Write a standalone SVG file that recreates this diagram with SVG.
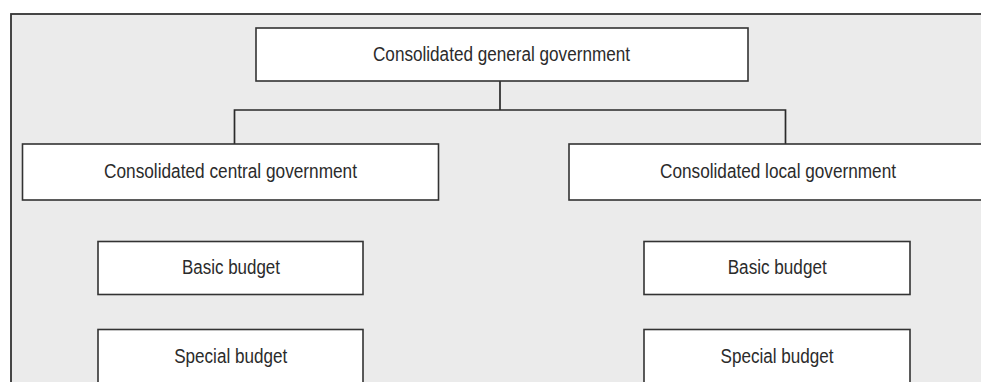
<svg xmlns="http://www.w3.org/2000/svg" width="981" height="382" viewBox="0 0 981 382">
<style>
.frame{fill:#ebebeb;stroke:#333;stroke-width:1.8}
.box{fill:#fff;stroke:#333;stroke-width:1.6}
.conn{fill:none;stroke:#2a2a2a;stroke-width:1.7}
text{font-family:"Liberation Sans",Arial,sans-serif;font-size:20px;fill:#2b2b2b;text-anchor:middle}
</style>
<rect class="frame" x="11" y="14" width="1000" height="400"/>
<g id="connectors">
<path class="conn" d="M500 81 V110"/>
<path class="conn" d="M234.5 144 V110 H785.5 V144"/>
</g>
<g id="general">
<rect class="box" x="256" y="28" width="492" height="53"/>
<text x="501.5" y="61" textLength="257" lengthAdjust="spacingAndGlyphs">Consolidated general government</text>
</g>
<g id="central">
<rect class="box" x="22.5" y="144" width="416" height="56"/>
<text x="230.5" y="178" textLength="253" lengthAdjust="spacingAndGlyphs">Consolidated central government</text>
</g>
<g id="local">
<rect class="box" x="569" y="144" width="418" height="56"/>
<text x="778" y="178" textLength="236" lengthAdjust="spacingAndGlyphs">Consolidated local government</text>
</g>
<g id="central-basic">
<rect class="box" x="98" y="241.5" width="265" height="53"/>
<text x="231" y="274.3" textLength="98" lengthAdjust="spacingAndGlyphs">Basic budget</text>
</g>
<g id="central-special">
<rect class="box" x="98" y="329.5" width="265" height="60"/>
<text x="230.7" y="362.5" textLength="113" lengthAdjust="spacingAndGlyphs">Special budget</text>
</g>
<g id="local-basic">
<rect class="box" x="644" y="241.5" width="266" height="53"/>
<text x="777.2" y="274.3" textLength="99" lengthAdjust="spacingAndGlyphs">Basic budget</text>
</g>
<g id="local-special">
<rect class="box" x="644" y="329.5" width="266" height="60"/>
<text x="777" y="362.5" textLength="113" lengthAdjust="spacingAndGlyphs">Special budget</text>
</g>
</svg>
